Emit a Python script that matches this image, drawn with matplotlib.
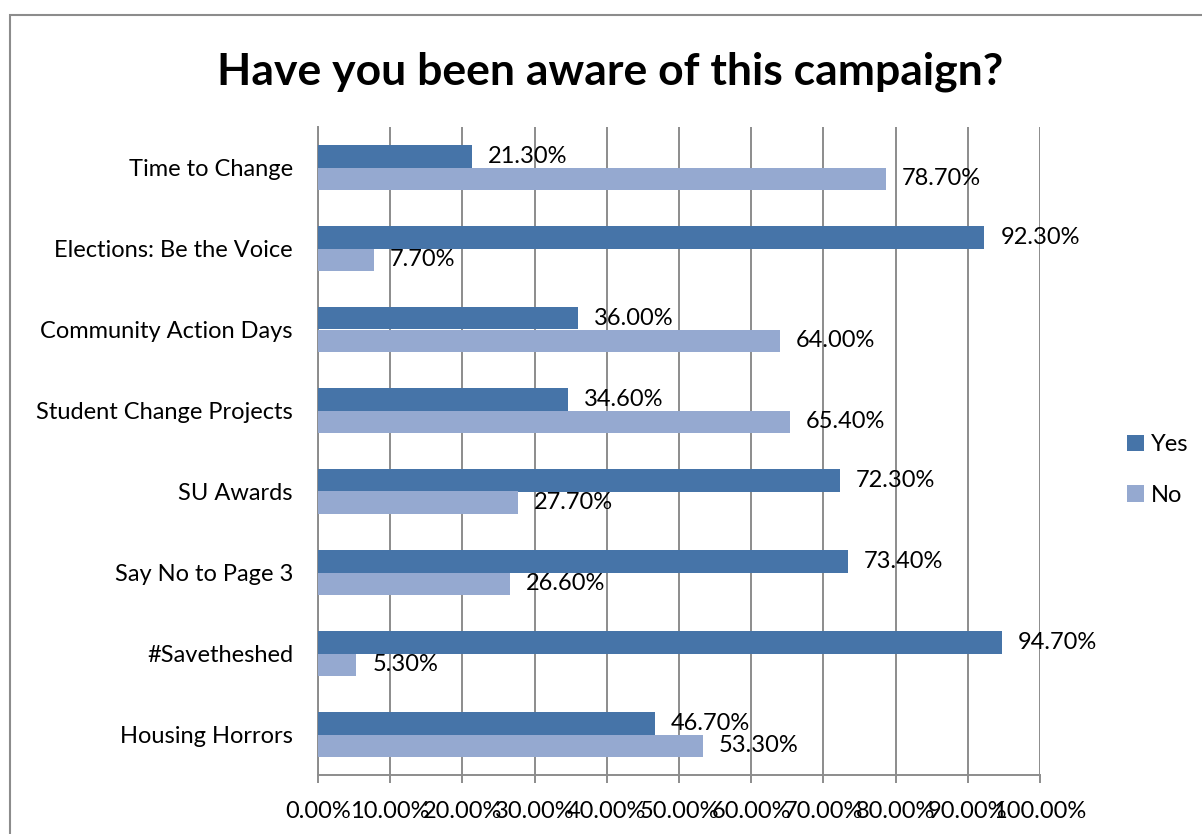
import matplotlib.pyplot as plt
from matplotlib.patches import Rectangle
import numpy as np

plt.rcParams["font.family"] = ["Lato", "DejaVu Sans"]

campaigns = [
    "Time to Change",
    "Elections: Be the Voice",
    "Community Action Days",
    "Student Change Projects",
    "SU Awards",
    "Say No to Page 3",
    "#Savetheshed",
    "Housing Horrors",
]
yes_pct = [21.3, 92.3, 36.0, 34.6, 72.3, 73.4, 94.7, 46.7]
no_pct = [78.7, 7.7, 64.0, 65.4, 27.7, 26.6, 5.3, 53.3]

YES_COLOR = "#4674A8"
NO_COLOR = "#95A9D0"
GRID = "#8C8C8C"

fig = plt.figure(figsize=(12.02, 8.34), dpi=100)
ax = fig.add_axes([318 / 1202, 1 - 775 / 834, 722 / 1202, 648 / 834])

y = np.arange(len(campaigns))
h = 0.28
yes_bars = ax.barh(y - h / 2, yes_pct, height=h, color=YES_COLOR, label="Yes", zorder=3)
no_bars = ax.barh(y + h / 2, no_pct, height=h, color=NO_COLOR, label="No", zorder=3)

for bars, vals in ((yes_bars, yes_pct), (no_bars, no_pct)):
    for b, v in zip(bars, vals):
        ax.annotate(f"{v:.2f}%", xy=(v, b.get_y() + b.get_height() / 2),
                    xytext=(16, 0), textcoords="offset pixels",
                    va="center", ha="left", fontsize=17, zorder=4)

ax.set_xlim(0, 100)
ax.set_ylim(len(campaigns) - 0.5, -0.5)
ax.set_xticks(np.arange(0, 101, 10))
ax.set_xticklabels([f"{t:.2f}%" for t in range(0, 101, 10)], fontsize=17)
ax.set_yticks(y)
ax.set_yticklabels(campaigns, fontsize=17)
ax.tick_params(axis="y", length=0, pad=18)
ax.tick_params(axis="x", length=6, width=1.4, color=GRID, pad=13)

ax.grid(axis="x", color=GRID, linewidth=1.4, zorder=0)
for side in ("top", "right"):
    ax.spines[side].set_visible(False)
for side in ("left", "bottom"):
    ax.spines[side].set_color(GRID)
    ax.spines[side].set_linewidth(1.4)

fig.text(0.508, 1 - 72 / 834, "Have you been aware of this campaign?",
         ha="center", va="center", fontsize=32, fontweight="bold")

fig.legend(handles=[yes_bars, no_bars], loc="center left",
           bbox_to_anchor=(1106 / 1202, 1 - 470 / 834), frameon=False,
           fontsize=17, handlelength=0.7, handleheight=0.7,
           handletextpad=0.3, labelspacing=1.25)

# outer chart frame
fig.add_artist(Rectangle((10 / 1202, -0.1), 1.1, 1.1 - 15 / 834,
                         transform=fig.transFigure, fill=False,
                         edgecolor=GRID, linewidth=1.5))

fig.savefig("out.png", dpi=100)
